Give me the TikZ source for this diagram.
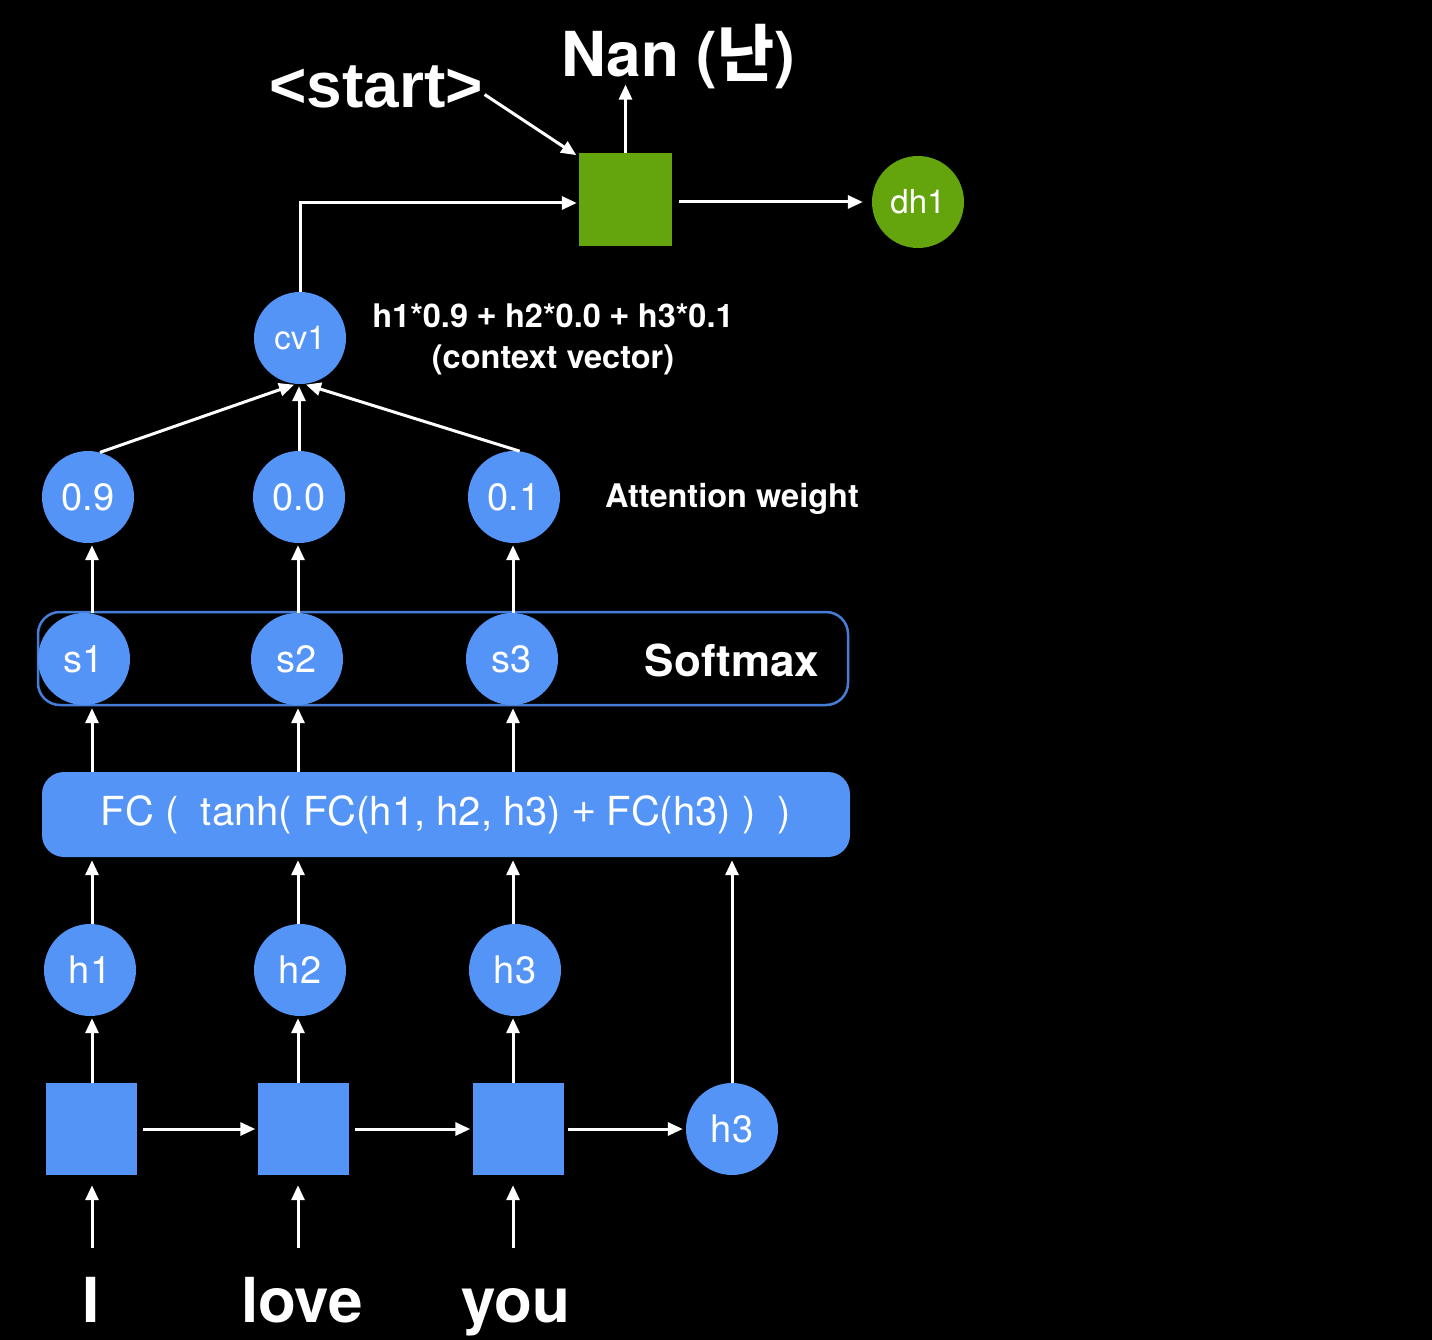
\documentclass[tikz,border=0pt]{standalone}
\usepackage{fontspec}
\setmainfont{TeX Gyre Heros}
\newfontfamily\kr{Noto Sans CJK KR}
\newfontfamily\lib{Liberation Sans}
\usetikzlibrary{arrows.meta,calc}
\definecolor{nblue}{RGB}{83,148,246}
\definecolor{ngreen}{RGB}{100,165,14}
\definecolor{sbox}{RGB}{70,125,215}
\newcommand{\pxsize}[2]{\fontsize{#1}{#2}\selectfont}
\begin{document}
\begin{tikzpicture}[x=1pt,y=-1pt,
  arr/.style={draw=white,line width=3pt,-{Triangle[length=15pt,width=13pt]}},
  circ/.style={circle,fill=nblue,minimum size=92pt,inner sep=0pt,text=white,font=\pxsize{38}{40}},
  gcirc/.style={circ,fill=ngreen,font=\pxsize{33}{36}},
  sq/.style={rectangle,fill=nblue,minimum width=91pt,minimum height=92pt,inner sep=0pt},
  lab/.style={text=white,inner sep=0pt},
  word/.style={lab,font=\bfseries\pxsize{62}{70},anchor=base}]
\fill[black] (0,0) rectangle (1432,1340);
\useasboundingbox (0,0) rectangle (1432,1340);

% encoder
\node[sq] (e1) at (91.5,1129) {};
\node[sq] (e2) at (303,1129) {};
\node[sq] (e3) at (518,1129) {};
\node[circ] (hr) at (732,1129) {h3};
\node[circ] (h1) at (90,970) {h1};
\node[circ] (h2) at (300,970) {h2};
\node[circ] (h3) at (515,970) {h3};

% words
\node[word] (wI) at (91,1322) {I};
\node[word] (wlove) at (302,1322) {love};
\node[word] (wyou) at (516,1322) {you};
\coordinate (a1) at (92,1248);
\coordinate (a2) at (298,1248);
\coordinate (a3) at (513,1248);

% FC box
\node[fill=nblue,rounded corners=22pt,minimum width=808pt,minimum height=85pt,inner sep=0pt,text=white,font=\pxsize{40}{44}] (fc) at (446,814.5) {FC (\ \ tanh( FC(h1, h2, h3) {\lib+} FC(h3) )\ \ )};

% softmax
\node[draw=sbox,line width=2.5pt,rounded corners=22pt,minimum width=810pt,minimum height=93pt,inner sep=0pt] (smx) at (443,658.5) {};
\node[circ] (s1) at (84,659) {s1};
\node[circ] (s2) at (297,659) {s2};
\node[circ] (s3) at (512,659) {s3};
\node[lab,font=\bfseries\pxsize{44}{48}] (smlab) at (732,660) {Softmax};

% attention weights
\node[circ] (w1) at (88,497) {0.9};
\node[circ] (w2) at (299,497) {0.0};
\node[circ] (w3) at (514,497) {0.1};
\node[lab,font=\bfseries\pxsize{32.5}{36}] (attlab) at (732,499) {Attention weight};

% context vector
\node[circ,font=\pxsize{33}{36}] (cv1) at (300,338) {cv1};
\node[lab,font=\bfseries\pxsize{32.5}{41},align=center] (ctx) at (553,339) {h1*0.9 {\lib+} h2*0.0 {\lib+} h3*0.1\\(context vector)};

% decoder
\node[rectangle,fill=ngreen,minimum width=93pt,minimum height=93pt,inner sep=0pt] (g) at (625.5,199.5) {};
\node[gcirc] (dh1) at (918,202) {dh1};
\node[lab,font=\bfseries\pxsize{62}{70},anchor=base] (nan) at (678,77) {Nan ({\kr\bfseries 난})};
\node[lab,font=\lib\bfseries\pxsize{64}{70},anchor=base] (start) at (376,108) {<start>};

% connectors: inputs
\draw[arr,shorten >=10pt] (a1) -- (a1 |- e1.south);
\draw[arr,shorten >=10pt] (a2) -- (a2 |- e2.south);
\draw[arr,shorten >=10pt] (a3) -- (a3 |- e3.south);
% recurrent
\draw[arr,shorten <=6pt,shorten >=2pt] (e1.east) -- (e2.west);
\draw[arr,shorten <=6pt,shorten >=2pt] (e2.east) -- (e3.west);
\draw[arr,shorten <=4pt,shorten >=3pt] (e3.east) -- (hr.west);
% encoder to h
\draw[arr,shorten >=2pt] (e1.north -| a1) -- (h1.south -| a1);
\draw[arr,shorten >=2pt] (e2.north -| a2) -- (h2.south -| a2);
\draw[arr,shorten >=2pt] (e3.north -| a3) -- (h3.south -| a3);
% h to FC
\draw[arr,shorten >=3pt] (h1.north -| a1) -- (fc.south -| a1);
\draw[arr,shorten >=3pt] (h2.north -| a2) -- (fc.south -| a2);
\draw[arr,shorten >=3pt] (h3.north -| a3) -- (fc.south -| a3);
\draw[arr,shorten >=3pt] (hr.north) -- (fc.south -| hr.north);
% FC to s
\draw[arr,shorten >=3pt] (fc.north -| a1) -- (s1.south -| a1);
\draw[arr,shorten >=3pt] (fc.north -| a2) -- (s2.south -| a2);
\draw[arr,shorten >=3pt] (fc.north -| a3) -- (s3.south -| a3);
% s to weights
\draw[arr,shorten >=2pt] (s1.north -| a1) -- (w1.south -| a1);
\draw[arr,shorten >=2pt] (s2.north -| a2) -- (w2.south -| a2);
\draw[arr,shorten >=2pt] (s3.north -| a3) -- (w3.south -| a3);
% weights to cv1
\draw[arr,shorten >=2pt] (w1.75) -- (cv1.265);
\draw[arr,shorten >=2pt] (w2.north) -- (w2.north |- cv1.south);
\draw[arr,shorten >=2pt] (w3.83) -- (cv1.275);
% cv1 to decoder
\draw[arr,shorten >=2pt] (cv1.north) |- ($(g.west)+(0,3.5)$);
\draw[arr,shorten <=2pt,shorten >=3pt] ($(start.east)+(0,6)$) -- ($(g.north west)+(0,4)$);
\draw[arr,shorten >=-5pt] (g.north) -- (g.north |- nan.south);
\draw[arr,shorten <=7pt,shorten >=9pt] (g.east |- dh1.west) -- (dh1.west);
\end{tikzpicture}
\end{document}
